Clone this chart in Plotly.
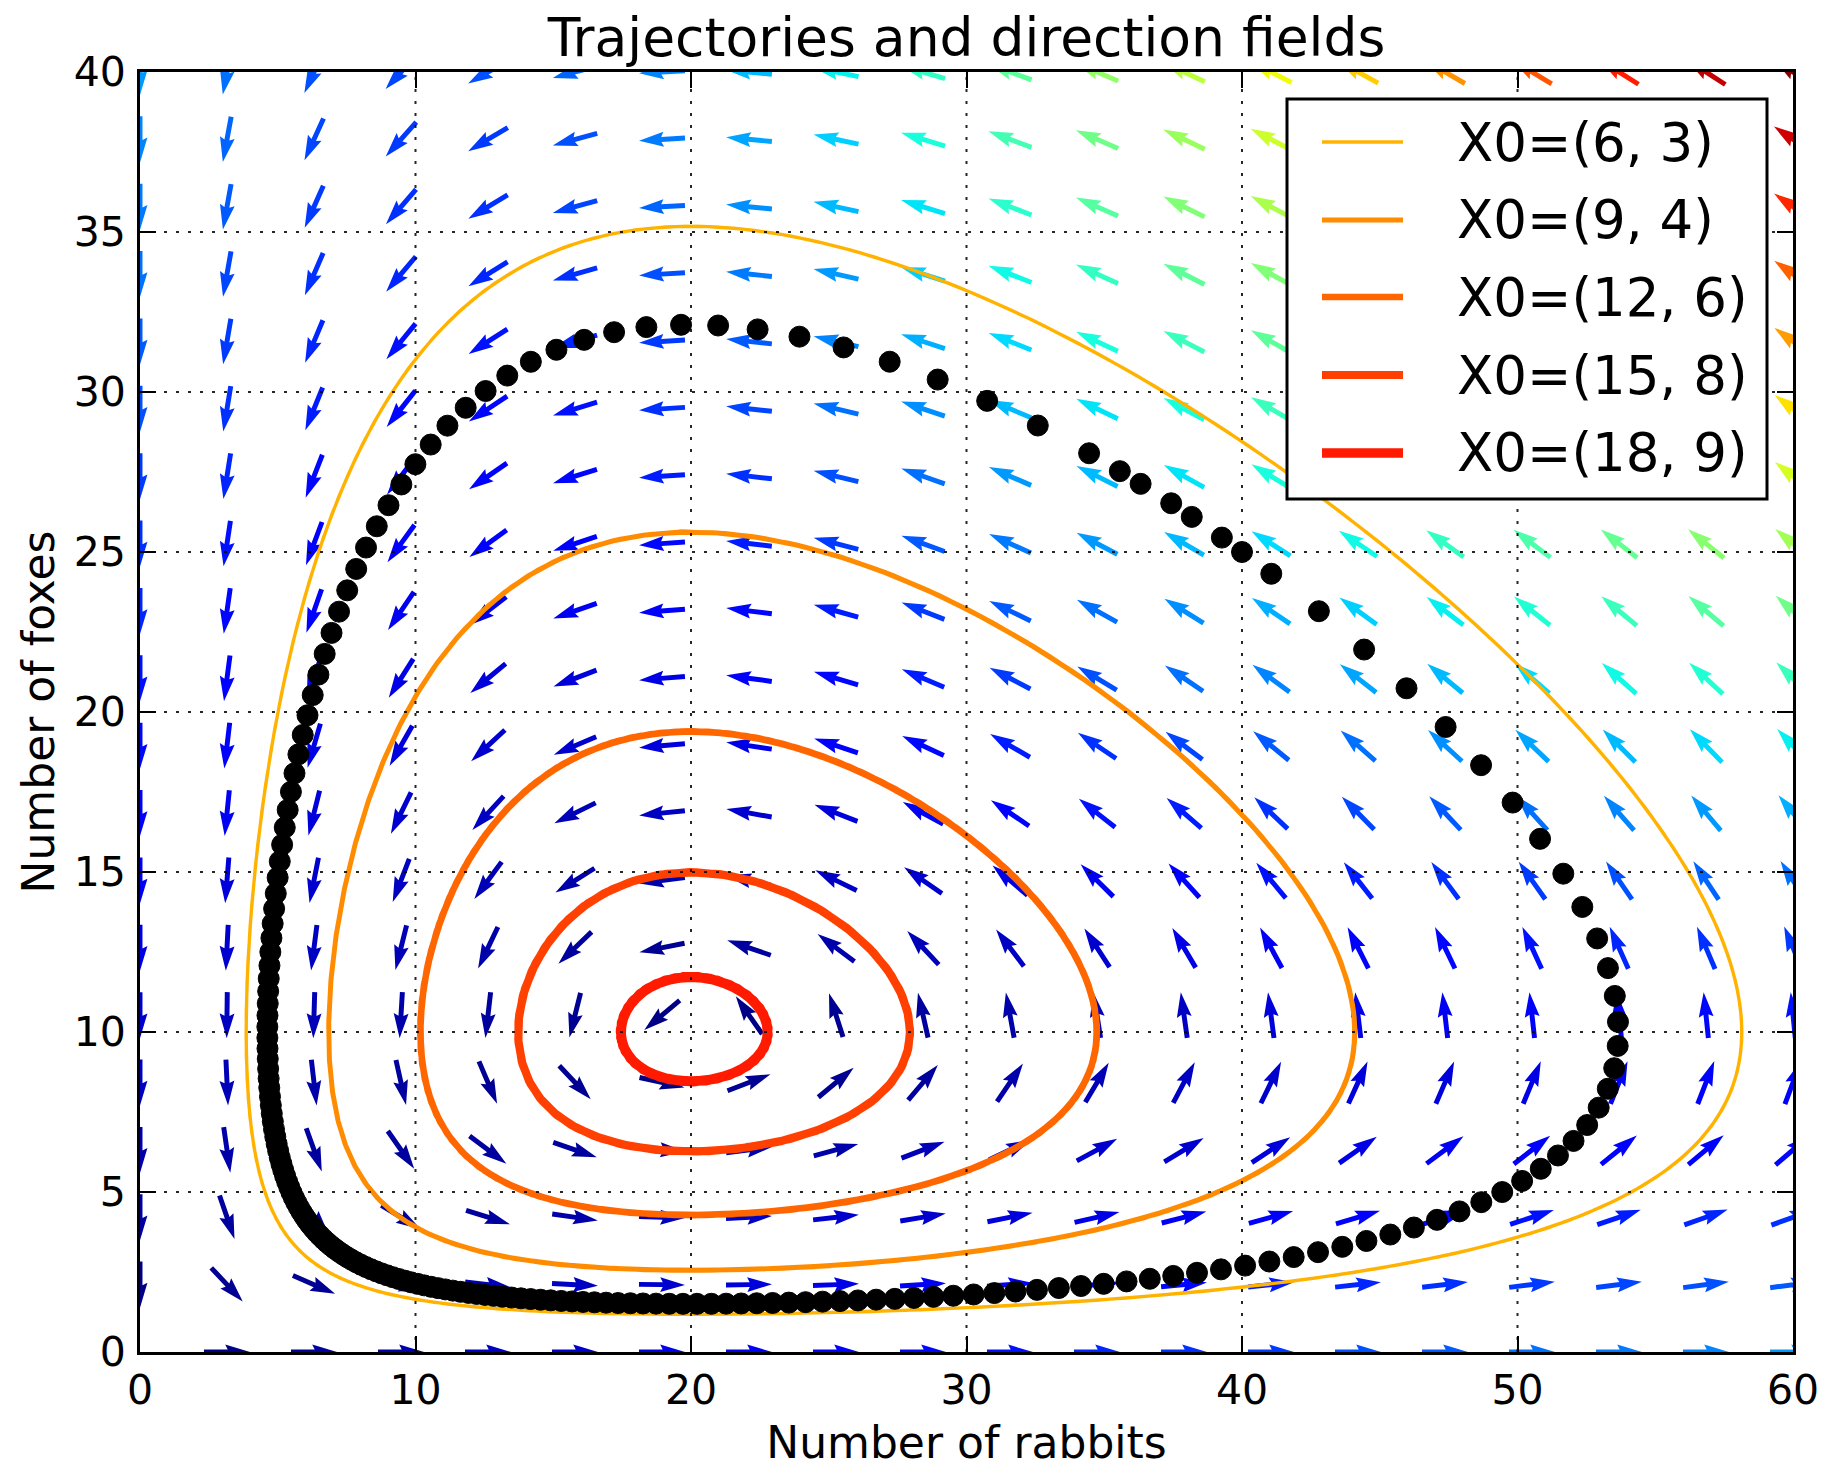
import numpy as np
import plotly.graph_objects as go

# ---------------- chart data ----------------
# Lotka-Volterra model behind the chart (equilibrium at (20, 10))
a_rate, b_rate, c_rate, d_rate = 1.0, 0.1, 1.5, 0.75
start_rabbits = [6.0, 9.0, 12.0, 15.0, 18.0]
start_foxes = [3.0, 4.5, 6.0, 7.5, 9.0]
legend_labels = ["X0=(6, 3)", "X0=(9, 4)", "X0=(12, 6)", "X0=(15, 8)", "X0=(18, 9)"]
line_colors = ["#FFB300", "#FF8C00", "#FF6600", "#FF4000", "#FF1A00"]
line_widths = [3.3, 4.9, 6.5, 8.1, 9.7]
dots_start = [40.0, 25.0]      # black sampled trajectory
dots_step = 0.03               # time between black dots
dots_extra_steps = 2.6         # samples past one full lap
curve_t_end = 15.0
x_ticks = [0, 10, 20, 30, 40, 50, 60]
y_ticks = [0, 5, 10, 15, 20, 25, 30, 35, 40]
x_range = [0, 60]
y_range = [0, 40]
grid_points = 20

TITLE = "Trajectories and direction fields"
XLABEL = "Number of rabbits"
YLABEL = "Number of foxes"

# ---------------- layout geometry ----------------
FIG_W, FIG_H = 1828, 1468
M_L, M_R, M_T, M_B = 140, 35, 72, 116
PLOT_W = FIG_W - M_L - M_R
PLOT_H = FIG_H - M_T - M_B
FONT = "DejaVu Sans"


def deriv(x, y):
    return a_rate * x - b_rate * x * y, -c_rate * y + d_rate * b_rate * x * y


def integrate(x0, y0, h, n):
    xs = np.empty(n + 1)
    ys = np.empty(n + 1)
    x, y = x0, y0
    xs[0], ys[0] = x, y
    for i in range(n):
        k1x, k1y = deriv(x, y)
        k2x, k2y = deriv(x + 0.5 * h * k1x, y + 0.5 * h * k1y)
        k3x, k3y = deriv(x + 0.5 * h * k2x, y + 0.5 * h * k2y)
        k4x, k4y = deriv(x + h * k3x, y + h * k3y)
        x += h / 6.0 * (k1x + 2 * k2x + 2 * k3x + k4x)
        y += h / 6.0 * (k1y + 2 * k2y + 2 * k3y + k4y)
        xs[i + 1] = x
        ys[i + 1] = y
    return xs, ys


def jet(v):
    r = np.interp(v, [0, 0.35, 0.66, 0.89, 1], [0, 0, 1, 1, 0.5])
    g = np.interp(v, [0, 0.125, 0.375, 0.64, 0.91, 1], [0, 0, 1, 1, 0, 0])
    b = np.interp(v, [0, 0.11, 0.34, 0.65, 1], [0.5, 1, 1, 0, 0])
    return "rgb(%d,%d,%d)" % (round(r * 255), round(g * 255), round(b * 255))


fig = go.Figure()

# ---------------- direction field (quiver) ----------------
gx = np.linspace(x_range[0], x_range[1], grid_points)
gy = np.linspace(y_range[0], y_range[1], grid_points)
GX, GY = np.meshgrid(gx, gy)
DX, DY = deriv(GX, GY)
MAG = np.hypot(DX, DY)
MAG[MAG == 0] = 1.0
U = DX / MAG
V = DY / MAG
A = np.hypot(U, V)
norm = (MAG - MAG.min()) / (MAG.max() - MAG.min())

sn = max(10, np.sqrt(A.size))
width_frac = 0.06 / sn
scale = 1.8 * A.mean() * sn
shaft_px = width_frac * PLOT_W
px_per_x = PLOT_W / (x_range[1] - x_range[0])
px_per_y = PLOT_H / (y_range[1] - y_range[0])

nbins = 96
bins = {}
for i in range(grid_points):
    for j in range(grid_points):
        amp = A[i, j]
        if amp == 0:
            continue
        L = amp / (scale * width_frac)
        xs = np.array([0, L - 4.5, L - 5, L, L - 5, L - 4.5, 0, 0]) - L / 2
        ys = np.array([0.5, 0.5, 1.5, 0, -1.5, -0.5, -0.5, 0.5])
        th = np.arctan2(V[i, j], U[i, j])
        px = (xs * np.cos(th) - ys * np.sin(th)) * shaft_px
        py = (xs * np.sin(th) + ys * np.cos(th)) * shaft_px
        k = min(nbins - 1, int(norm[i, j] * nbins))
        bx, by = bins.setdefault(k, ([], []))
        bx.extend(list(GX[i, j] + px / px_per_x) + [None])
        by.extend(list(GY[i, j] + py / px_per_y) + [None])

for k in sorted(bins):
    bx, by = bins[k]
    col = jet((k + 0.5) / nbins)
    fig.add_trace(go.Scatter(x=bx, y=by, mode="lines", fill="toself",
                             fillcolor=col, line=dict(width=0, color=col),
                             hoverinfo="skip", showlegend=False))

# ---------------- trajectories ----------------
h = 0.003
n_steps = int(round(curve_t_end / h))
for x0, y0, lab, col, lw in zip(start_rabbits, start_foxes, legend_labels,
                                line_colors, line_widths):
    xs, ys = integrate(x0, y0, h, n_steps)
    fig.add_trace(go.Scatter(x=xs[::2], y=ys[::2], mode="lines", name=lab,
                             line=dict(color=col, width=lw),
                             showlegend=False))

# ---------------- black sampled trajectory ----------------
sub = 15
hd = dots_step / sub
xd, yd = integrate(dots_start[0], dots_start[1], hd, int(12.0 / hd))
td = np.arange(len(xd)) * hd
period = None
for i in range(1, len(xd)):
    if td[i] > 1.0 and xd[i - 1] >= dots_start[0] > xd[i] and yd[i] > 10:
        f = (xd[i - 1] - dots_start[0]) / (xd[i - 1] - xd[i])
        period = td[i - 1] + f * hd
        break
n_dots = int((period + dots_extra_steps * dots_step) / dots_step) + 1
dx_pts = xd[::sub][:n_dots]
dy_pts = yd[::sub][:n_dots]
fig.add_trace(go.Scatter(x=dx_pts, y=dy_pts, mode="markers",
                         marker=dict(color="black", size=21,
                                     line=dict(color="black", width=1)),
                         showlegend=False))

# ---------------- grid (drawn above data, like the reference) ----------------
shapes = []
for xv in x_ticks[1:-1]:
    shapes.append(dict(type="line", xref="x", yref="y", x0=xv, x1=xv,
                       y0=y_range[0], y1=y_range[1], layer="above",
                       line=dict(color="rgba(0,0,0,0.85)", width=2, dash="3px,9px")))
for yv in y_ticks[1:-1]:
    shapes.append(dict(type="line", xref="x", yref="y", y0=yv, y1=yv,
                       x0=x_range[0], x1=x_range[1], layer="above",
                       line=dict(color="rgba(0,0,0,0.85)", width=2, dash="3px,9px")))


# ---------------- legend (box drawn in plot pixels) ----------------
def px2paper_x(p):
    return (p - M_L) / PLOT_W


def px2paper_y(p):
    return (FIG_H - M_B - p) / PLOT_H


box = (1287, 99, 1767, 499)
shapes.append(dict(type="rect", xref="paper", yref="paper",
                   x0=px2paper_x(box[0]), x1=px2paper_x(box[2]),
                   y0=px2paper_y(box[3]), y1=px2paper_y(box[1]),
                   fillcolor="white", layer="above",
                   line=dict(color="black", width=3)))
row_y = [142, 220, 297, 375, 453]
annotations = []
for ry, lab, col, lw in zip(row_y, legend_labels, line_colors, line_widths):
    shapes.append(dict(type="line", xref="paper", yref="paper",
                       x0=px2paper_x(1322), x1=px2paper_x(1403),
                       y0=px2paper_y(ry), y1=px2paper_y(ry), layer="above",
                       line=dict(color=col, width=lw)))
    annotations.append(dict(xref="paper", yref="paper", x=px2paper_x(1455),
                            y=px2paper_y(ry), xanchor="left", yanchor="middle",
                            text=lab, showarrow=False,
                            font=dict(family=FONT, size=53, color="black")))

axis_common = dict(ticks="inside", ticklen=16, tickwidth=2, tickcolor="black",
                   showline=True, linecolor="black", linewidth=3, mirror="ticks",
                   showgrid=False, zeroline=False, automargin=False,
                   tickfont=dict(family=FONT, size=41, color="black"))

fig.update_layout(
    width=FIG_W, height=FIG_H,
    margin=dict(l=M_L, r=M_R, t=M_T, b=M_B, pad=0),
    plot_bgcolor="white", paper_bgcolor="white",
    font=dict(family=FONT, color="black"),
    showlegend=False,
    title=dict(text=TITLE, x=0.5, xref="paper", xanchor="center",
               y=1 - 37 / FIG_H, yref="container", yanchor="middle",
               font=dict(family=FONT, size=53.5, color="black")),
    xaxis=dict(range=x_range, tickvals=x_ticks, ticktext=[str(v) for v in x_ticks],
               title=dict(text=XLABEL, font=dict(family=FONT, size=44, color="black"),
                          standoff=17),
               **axis_common),
    yaxis=dict(range=y_range, tickvals=y_ticks, ticktext=[str(v) for v in y_ticks],
               ticklabelstandoff=3,
               title=dict(text=YLABEL, font=dict(family=FONT, size=44, color="black"),
                          standoff=6),
               **axis_common),
    shapes=shapes,
    annotations=annotations,
)

fig.write_html("out.html", config={"displayModeBar": False},
               post_script="document.body.style.margin='0px';")
